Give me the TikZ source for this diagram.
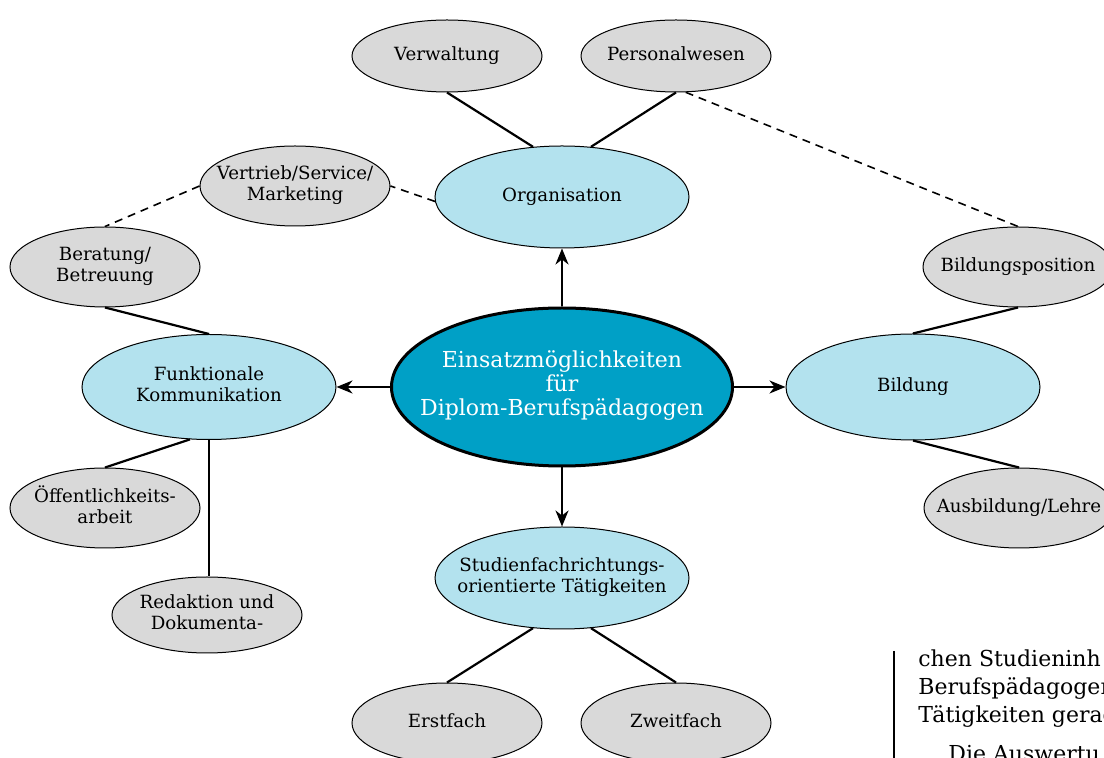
\documentclass[tikz,border=0pt]{standalone}
\usepackage{fontspec}
\setmainfont{DejaVu Serif}
\usetikzlibrary{shapes.geometric,arrows.meta}
\definecolor{hubblue}{HTML}{00A0C6}
\definecolor{areablue}{HTML}{B3E2EE}
\definecolor{fieldgrey}{HTML}{D9D9D9}
% text box of zero width, so that the ellipse keeps its given size
\newcommand{\lbl}[1]{\makebox[0pt]{\begin{tabular}{@{}c@{}}#1\end{tabular}}}
\tikzset{
	hub/.style={ellipse, draw, line width=1.5pt, fill=hubblue, text=white, inner sep=0pt,
		minimum width=170.5pt, minimum height=79pt, font=\fontsize{11}{12}\selectfont},
	area/.style={ellipse, draw, line width=0.5pt, fill=areablue, inner sep=0pt,
		minimum width=127pt, minimum height=51pt, font=\fontsize{9.1}{10.6}\selectfont},
	field/.style={ellipse, draw, line width=0.5pt, fill=fieldgrey, inner sep=0pt,
		minimum width=95pt, minimum height=40pt, font=\fontsize{9.1}{10.6}\selectfont},
	link/.style={line width=1.1pt},
	loose/.style={line width=0.8pt, dash pattern=on 4pt off 3pt},
	branch/.style={line width=1.1pt, -{Stealth[length=8pt,width=6.5pt,inset=2.5pt]}},
	pagetext/.style={inner sep=0pt, anchor=base west, font=\fontsize{11}{14}\selectfont}
}
\begin{document}
\begin{tikzpicture}[x=0.5pt, y=-0.5pt]
		\clip (0,0) rectangle (1104,758);
		% centre and the four areas
		\node[hub] (hub) at (562,387) {\lbl{Einsatzmöglichkeiten\\für\\Diplom-Berufspädagogen}};
		\node[area] (org) at (562,197) {\lbl{Organisation}};
		\node[area, minimum height=52.5pt] (funk) at (209,387) {\lbl{Funktionale\\Kommunikation}};
		\node[area, minimum height=53pt] (bild) at (913,387) {\lbl{Bildung}};
		\node[area] (stud) at (562,578) {\lbl{Studienfachrichtungs-\\orientierte Tätigkeiten}};
		%
		\node[field, minimum height=36pt] (verw) at (447,56) {\lbl{Verwaltung}};
		\node[field, minimum height=36pt] (pers) at (676,56) {\lbl{Personalwesen}};
		\node[field] (vert) at (295,186) {\lbl{Vertrieb/Service/\\Marketing}};
		\node[field] (bera) at (105,267) {\lbl{Beratung/\\Betreuung}};
		\node[field] (bpos) at (1018,267) {\lbl{Bildungsposition}};
		\node[field] (ausb) at (1019,508) {\lbl{Ausbildung/Lehre}};
		\node[field] (oeff) at (105,508) {\lbl{Öffentlichkeits-\\arbeit}};
		\node[field, minimum height=38pt] (reda) at (207,615) {\lbl{Redaktion und\\Dokumenta-}};
		\node[field] (erst) at (447,723) {\lbl{Erstfach}};
		\node[field] (zweit) at (676,723) {\lbl{Zweitfach}};
		%
		\draw[branch] (hub.north) -- (org.south);
		\draw[branch] (hub.west) -- (funk.east);
		\draw[branch] (hub.east) -- (bild.west);
		\draw[branch] (hub.south) -- (stud.north);
		%
		\draw[link] (verw.south) -- (org.120);
		\draw[link] (pers.south) -- (org.60);
		\draw[loose] (pers.-75) -- (bpos.north);
		\draw[loose] (org.182) -- (vert.east);
		\draw[loose] (vert.west) -- (bera.north);
		\draw[link] (bera.south) -- (funk.north);
		\draw[link] (funk.-110) -- (oeff.north);
		\draw[link] (funk.south) -- (funk.south |- reda.north);
		\draw[link] (bpos.south) -- (bild.north);
		\draw[link] (bild.south) -- (ausb.north);
		\draw[link] (stud.-120) -- (erst.north);
		\draw[link] (stud.-60) -- (zweit.north);
		%
		\draw[line width=0.6pt] (894,651) -- (894,758);
		\node[pagetext] (p1) at (918,667) {chen Studieninh};
		\node[pagetext] (p2) at (918,695) {Berufspädagogen};
		\node[pagetext] (p3) at (918,723) {Tätigkeiten gerad};
		\node[pagetext] (p4) at (948,762) {Die Auswertu};
	\end{tikzpicture}
\end{document}
